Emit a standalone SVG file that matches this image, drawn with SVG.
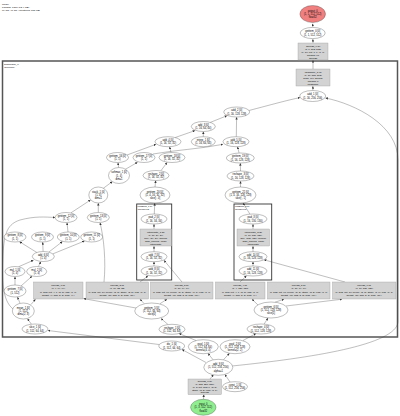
<svg xmlns="http://www.w3.org/2000/svg" width="400" height="416" viewBox="0 0 400 416">
<style>
text{font-family:"Liberation Sans",Arial,sans-serif;font-size:2.6px;fill:#000;text-anchor:middle}
.lbl{text-anchor:start;font-size:2.5px}
.n ellipse{fill:#fff;stroke:#333;stroke-width:0.32}
.b rect{fill:#d3d3d3;stroke:#999;stroke-width:0.35}
.b text{font-size:2.4px}
.e path{fill:none;stroke:#333;stroke-width:0.32;marker-end:url(#ah)}
.cl{fill:none;stroke:#555;stroke-width:1.5}
.sc{fill:none;stroke:#333;stroke-width:0.9}
</style>
<defs>
<marker id="ah" viewBox="0 0 10 10" refX="10" refY="5" markerWidth="2.4" markerHeight="2.4" markerUnits="userSpaceOnUse" orient="auto"><path d="M0,0 L10,5 L0,10 z" fill="#333"/></marker>
</defs>
<rect width="400" height="416" fill="#fff"/>
<g id="title">
<text class="lbl" x="2" y="4.5">Model</text>
<text class="lbl" x="2" y="7.6">Params: 3.2M (12.4 MB)</text>
<text class="lbl" x="2" y="10.7">MACs: 41.7G  Activations: 318 MB</text>
</g>
<g id="clusters">
<rect class="cl" x="2.5" y="61" width="395" height="276"/>
<text class="lbl" x="4" y="64.5">Sequential_0</text>
<text class="lbl" x="4" y="67.5">(decoder)</text>
<rect class="sc" x="136.7" y="204" width="35" height="76"/>
<text class="lbl" x="137.6" y="207" style="font-size:2.1px">FPNBlock_1 [1]</text>
<text class="lbl" x="137.6" y="209.6" style="font-size:2.1px">(decoder.p2)</text>
<rect class="sc" x="234" y="204" width="37.7" height="76"/>
<text class="lbl" x="234.9" y="207" style="font-size:2.1px">FPNBlock_2 [1]</text>
<text class="lbl" x="234.9" y="209.6" style="font-size:2.1px">(decoder.p3)</text>
</g>
<g id="edges" class="e">
<path d="M203.5,399.3 L203.8,394.6"/>
<path d="M210,379 L213.5,374.6"/>
<path d="M230,382 L225,374.5"/>
<path d="M206,362.5 L182,349.5"/>
<path d="M213,359.7 L208,353.3"/>
<path d="M223.5,359.7 L229.5,353.3"/>
<path d="M232,366 C310,358 396,345 398,322 L398,160 C398,125 355,104 325.5,98"/>
<path d="M159,344.5 L48,330.5"/>
<path d="M196,340.5 L179,333.5"/>
<path d="M243,340.5 L256,333.5"/>
<path d="M168,324.5 L161,318.5"/>
<path d="M264,324.2 L268,318"/>
<path d="M136,308 L83.5,298.6"/>
<path d="M144,303.5 L140,299.2"/>
<path d="M160,303.7 L167,299.2"/>
<path d="M258,305 L252,299.2"/>
<path d="M275,302.2 L284,299.2"/>
<path d="M286,306 L342,299.2"/>
<path d="M140,282 L148,275.8"/>
<path d="M182,282 L164,260.3"/>
<path d="M240,282 L246.5,275.8"/>
<path d="M345,282 L264,259.8"/>
<path d="M154,266 L154,261.8"/>
<path d="M154,251.7 L154,246.2"/>
<path d="M154,229 L154,224.2"/>
<path d="M154.3,214 L154.7,203.2"/>
<path d="M253,266 L253,261.8"/>
<path d="M253,251.7 L253,246.2"/>
<path d="M253,229 L253,224.2"/>
<path d="M250,214.2 L243,203"/>
<path d="M155,187 L155.7,180.6"/>
<path d="M161,170.6 L167,162.6"/>
<path d="M171,152.5 L169.6,146.8"/>
<path d="M240.5,187 L240.5,181.2"/>
<path d="M240.5,171 L240.3,163.2"/>
<path d="M239,152.8 L237.5,146.8"/>
<path d="M236.3,136.7 L236.6,117.2"/>
<path d="M175,137.6 L195,130.6"/>
<path d="M203.3,136.7 L203.3,131.6"/>
<path d="M210,122.5 L227,115.7"/>
<path d="M249,110.5 C270,105 288,100 300,97.6"/>
<path d="M312.8,90.5 L312.9,86.2"/>
<path d="M313,69 L313,60.2"/>
<path d="M313,43 L312.9,39.2"/>
<path d="M312.7,27 L312.7,23.7"/>
<path d="M103,188.5 L112.5,181.5"/>
<path d="M118.6,167.5 L118,162.7"/>
<path d="M125,169.5 L137.5,162.3"/>
<path d="M127,155 L156,144.3"/>
<path d="M153,154 C175,150 200,149 223,144.3"/>
<path d="M71,212.8 L90.5,200"/>
<path d="M98.3,212.5 L98.3,203.2"/>
<path d="M68,232 L67,222.7"/>
<path d="M37,252.6 L19.5,241.7"/>
<path d="M43.1,251.5 L42.7,242.2"/>
<path d="M48.5,252.3 L62.5,241.5"/>
<path d="M52.5,254 L84.5,241"/>
<path d="M18.5,266.8 L33.5,260.2"/>
<path d="M38.3,266.6 L40.8,261.7"/>
<path d="M15,285 L15,276.7"/>
<path d="M21,286 L32,276.2"/>
<path d="M20,303.2 L17.5,297.1"/>
<path d="M31.5,324.3 L27.5,318.7"/>
<path d="M13,309 C2,300 2,280 3,255 C4,232 8,224 20,220 C35,216 45,217 55,217.5"/>
<path d="M104,282 C106,262 104,238 100,222.7"/>
<path d="M31,304.5 L35.5,299.2"/>
</g>
<g id="output_0" class="n"><ellipse cx="312.7" cy="14" rx="12.8" ry="8.5" style="fill:#f08080"/><text x="312.7" y="11.8">output_0</text><text x="312.7" y="15">(1, 1, 512, 512)</text><text x="312.7" y="18.2">float32</text></g>
<g id="getitem_0" class="n"><ellipse cx="312.7" cy="33" rx="12.5" ry="5.6"/><text x="312.7" y="32.4">getitem_0 [0]</text><text x="312.7" y="35.6">(1, 1, 512, 512)</text></g>
<g id="conv2d_out" class="b"><rect x="298" y="43" width="30" height="17"/><text x="313" y="46.6">Conv2d_9 [1]</text><text x="313" y="49.6">(1, 1, 512, 512)</text><text x="313" y="52.6">in=16, out=1, k=(1, 1)</text><text x="313" y="55.6">params: 17</text><text x="313" y="58.6">Conv2d</text></g>
<g id="upsample" class="b"><rect x="296" y="69" width="34" height="17"/><text x="313" y="72.6">Upsample_1 [1]</text><text x="313" y="75.6">(1, 16, 512, 512)</text><text x="313" y="78.6">scale=2.0, bilinear</text><text x="313" y="81.6">params: 0</text><text x="313" y="84.6">Upsample</text></g>
<g id="add_1" class="n"><ellipse cx="312.7" cy="96" rx="13" ry="5.5"/><text x="312.7" y="95.4">add_1 [0]</text><text x="312.7" y="98.6">(1, 16, 256, 256)</text></g>
<g id="add_2" class="n"><ellipse cx="236.7" cy="112" rx="13" ry="5"/><text x="236.7" y="111.4">add_2 [0]</text><text x="236.7" y="114.6">(1, 16, 128, 128)</text></g>
<g id="add_3" class="n"><ellipse cx="203.3" cy="126.5" rx="12" ry="5"/><text x="203.3" y="125.9">add_3 [0]</text><text x="203.3" y="129.1">(1, 16, 64, 64)</text></g>
<g id="add_4" class="n"><ellipse cx="168" cy="141.7" rx="13" ry="5"/><text x="168" y="141.1">add_4 [0]</text><text x="168" y="144.3">(1, 16, 32, 32)</text></g>
<g id="interp_1" class="n"><ellipse cx="203.3" cy="141.7" rx="12" ry="5"/><text x="203.3" y="141.1">interp_1 [0]</text><text x="203.3" y="144.3">(1, 16, 64, 64)</text></g>
<g id="add_5" class="n"><ellipse cx="236" cy="141.7" rx="13" ry="5"/><text x="236" y="141.1">add_5 [0]</text><text x="236" y="144.3">(1, 16, 128, 128)</text></g>
<g id="getitem_16" class="n"><ellipse cx="117.5" cy="157.5" rx="11" ry="5"/><text x="117.5" y="156.9">getitem_16 [0]</text><text x="117.5" y="160.1">(1, 1)</text></g>
<g id="getitem_17" class="n"><ellipse cx="144" cy="157.5" rx="11" ry="5"/><text x="144" y="156.9">getitem_17 [0]</text><text x="144" y="160.1">(1, 1)</text></g>
<g id="getitem_18" class="n"><ellipse cx="172" cy="157.5" rx="13" ry="5"/><text x="172" y="156.9">getitem_18 [0]</text><text x="172" y="160.1">(1, 16, 32, 32)</text></g>
<g id="getitem_19" class="n"><ellipse cx="240.3" cy="158" rx="14" ry="5"/><text x="240.3" y="157.4">getitem_19 [0]</text><text x="240.3" y="160.6">(1, 16, 128, 128)</text></g>
<g id="softmax_1" class="n"><ellipse cx="119" cy="175.5" rx="10.5" ry="8"/><text x="119" y="173.3">softmax_1 [0]</text><text x="119" y="176.5">(1, 4)</text><text x="119" y="179.7">dim=1</text></g>
<g id="reshape_2" class="n"><ellipse cx="156" cy="175.5" rx="13" ry="5"/><text x="156" y="174.9">reshape_2 [0]</text><text x="156" y="178.1">(1, 16, 32, 32)</text></g>
<g id="reshape_3" class="n"><ellipse cx="240.5" cy="176" rx="13.5" ry="5"/><text x="240.5" y="175.4">reshape_3 [0]</text><text x="240.5" y="178.6">(1, 16, 128, 128)</text></g>
<g id="stack_1" class="n"><ellipse cx="98.3" cy="195" rx="9.5" ry="8"/><text x="98.3" y="192.8">stack_1 [0]</text><text x="98.3" y="196">(1, 4)</text><text x="98.3" y="199.2">dim=1</text></g>
<g id="getitem_20" class="n"><ellipse cx="155" cy="195" rx="15" ry="8"/><text x="155" y="192.8">getitem_20 [0]</text><text x="155" y="196">(1, 4, 16, 32, 32)</text><text x="155" y="199.2">slice[:, 0]</text></g>
<g id="getitem_21" class="n"><ellipse cx="240.5" cy="195" rx="15.5" ry="8"/><text x="240.5" y="192.8">getitem_21 [0]</text><text x="240.5" y="196">(1, 4, 16, 128, 128)</text><text x="240.5" y="199.2">slice[:, 1]</text></g>
<g id="getitem_12" class="n"><ellipse cx="66" cy="217.5" rx="11" ry="5"/><text x="66" y="216.9">getitem_12 [0]</text><text x="66" y="220.1">(1, 1)</text></g>
<g id="getitem_13" class="n"><ellipse cx="98.3" cy="217.5" rx="11" ry="5"/><text x="98.3" y="216.9">getitem_13 [0]</text><text x="98.3" y="220.1">(1, 1)</text></g>
<g id="getitem_8" class="n"><ellipse cx="15" cy="237" rx="11" ry="5"/><text x="15" y="236.4">getitem_8 [0]</text><text x="15" y="239.6">(1, 1)</text></g>
<g id="getitem_9" class="n"><ellipse cx="42.5" cy="237" rx="11" ry="5"/><text x="42.5" y="236.4">getitem_9 [0]</text><text x="42.5" y="239.6">(1, 1)</text></g>
<g id="getitem_10" class="n"><ellipse cx="68.3" cy="237" rx="11" ry="5"/><text x="68.3" y="236.4">getitem_10 [0]</text><text x="68.3" y="239.6">(1, 1)</text></g>
<g id="getitem_11" class="n"><ellipse cx="91.7" cy="237" rx="11" ry="5"/><text x="91.7" y="236.4">getitem_11 [0]</text><text x="91.7" y="239.6">(1, 1)</text></g>
<g id="add_6" class="n"><ellipse cx="43.3" cy="256.5" rx="11" ry="5"/><text x="43.3" y="255.9">add_6 [0]</text><text x="43.3" y="259.1">(1, 4)</text></g>
<g id="mul_1" class="n"><ellipse cx="15" cy="271.5" rx="10" ry="5"/><text x="15" y="270.9">mul_1 [0]</text><text x="15" y="274.1">(1, 4)</text></g>
<g id="mul_2" class="n"><ellipse cx="36.7" cy="271.5" rx="10" ry="5"/><text x="36.7" y="270.9">mul_2 [0]</text><text x="36.7" y="274.1">(1, 4)</text></g>
<g id="getitem_7" class="n"><ellipse cx="15" cy="291" rx="11" ry="6"/><text x="15" y="290.4">getitem_7 [0]</text><text x="15" y="293.6">(1, 512)</text></g>
<g id="mean_1" class="n"><ellipse cx="23.3" cy="311" rx="11" ry="8"/><text x="23.3" y="308.8">mean_1 [0]</text><text x="23.3" y="312">(1, 512)</text><text x="23.3" y="315.2">dim=(2, 3)</text></g>
<g id="slice_1" class="n"><ellipse cx="35" cy="329" rx="13" ry="5"/><text x="35" y="328.4">slice_1 [0]</text><text x="35" y="331.6">(1, 512, 64, 64)</text></g>
<g id="pad_2" class="n"><ellipse cx="154" cy="219" rx="13" ry="5"/><text x="154" y="218.4">pad_2 [0]</text><text x="154" y="221.6">(1, 16, 34, 34)</text></g>
<g id="interp_2" class="b"><rect x="140" y="229" width="31.5" height="17"/><text x="155.7" y="232.6">Interpolate_1 [2]</text><text x="155.7" y="235.6">(1, 16, 34, 34)</text><text x="155.7" y="238.6">size=(34, 34), bilinear</text><text x="155.7" y="241.6">align_corners=False</text><text x="155.7" y="244.6">Interpolate</text></g>
<g id="add_7" class="n"><ellipse cx="154" cy="256.7" rx="13" ry="5"/><text x="154" y="256.1">add_7 [0]</text><text x="154" y="259.3">(1, 16, 32, 32)</text></g>
<g id="add_8" class="n"><ellipse cx="154" cy="271" rx="13" ry="5"/><text x="154" y="270.4">add_8 [0]</text><text x="154" y="273.6">(1, 16, 32, 32)</text></g>
<g id="pad_3" class="n"><ellipse cx="253" cy="219" rx="14" ry="5"/><text x="253" y="218.4">pad_3 [0]</text><text x="253" y="221.6">(1, 16, 130, 130)</text></g>
<g id="interp_3" class="b"><rect x="237" y="229" width="32.5" height="17"/><text x="253.2" y="232.6">Interpolate_2 [2]</text><text x="253.2" y="235.6">(1, 16, 130, 130)</text><text x="253.2" y="238.6">size=(130, 130), bilinear</text><text x="253.2" y="241.6">align_corners=False</text><text x="253.2" y="244.6">Interpolate</text></g>
<g id="add_10" class="n"><ellipse cx="253" cy="256.7" rx="14" ry="5"/><text x="253" y="256.1">add_10 [0]</text><text x="253" y="259.3">(1, 16, 128, 128)</text></g>
<g id="add_11" class="n"><ellipse cx="253" cy="271" rx="14" ry="5"/><text x="253" y="270.4">add_11 [0]</text><text x="253" y="273.6">(1, 16, 128, 128)</text></g>
<g id="conv2d_1" class="b"><rect x="33.5" y="282" width="49.5" height="17"/><text x="58.2" y="286">conv2d_1 [0]</text><text x="58.2" y="289.4">(1, 4, 64, 64)</text><text x="58.2" y="292.8">in=512, out=4, k=(3, 3), pad=(1, 1)</text><text x="58.2" y="296.2">weight=(4, 512, 3, 3), bias=(4,)</text></g>
<g id="conv2d_2" class="b"><rect x="86" y="282" width="62.5" height="17"/><text x="117.2" y="286">conv2d_2 [0]</text><text x="117.2" y="289.4">(1, 16, 32, 32)</text><text x="117.2" y="292.8">in=512, out=16, kernel=(3, 3), stride=(2, 2), pad=(1, 1)</text><text x="117.2" y="296.2">weight=(16, 512, 3, 3), bias=(16,)</text></g>
<g id="conv2d_3" class="b"><rect x="150.5" y="282" width="62.5" height="17"/><text x="181.7" y="286">conv2d_3 [0]</text><text x="181.7" y="289.4">(1, 16, 64, 64)</text><text x="181.7" y="292.8">in=512, out=16, kernel=(3, 3), stride=(1, 1), pad=(1, 1)</text><text x="181.7" y="296.2">weight=(16, 512, 3, 3), bias=(16,)</text></g>
<g id="conv2d_4" class="b"><rect x="215.5" y="282" width="49.5" height="17"/><text x="240.2" y="286">conv2d_4 [0]</text><text x="240.2" y="289.4">(1, 4, 128, 128)</text><text x="240.2" y="292.8">in=512, out=4, k=(3, 3), pad=(1, 1)</text><text x="240.2" y="296.2">weight=(4, 512, 3, 3), bias=(4,)</text></g>
<g id="conv2d_5" class="b"><rect x="267.5" y="282" width="62.5" height="17"/><text x="298.7" y="286">conv2d_5 [0]</text><text x="298.7" y="289.4">(1, 16, 64, 64)</text><text x="298.7" y="292.8">in=512, out=16, kernel=(3, 3), stride=(2, 2), pad=(1, 1)</text><text x="298.7" y="296.2">weight=(16, 512, 3, 3), bias=(16,)</text></g>
<g id="conv2d_6" class="b"><rect x="332.5" y="282" width="63.5" height="17"/><text x="364.2" y="286">conv2d_6 [0]</text><text x="364.2" y="289.4">(1, 16, 128, 128)</text><text x="364.2" y="292.8">in=512, out=16, kernel=(3, 3), stride=(1, 1), pad=(1, 1)</text><text x="364.2" y="296.2">weight=(16, 512, 3, 3), bias=(16,)</text></g>
<g id="getitem_5" class="n"><ellipse cx="151.7" cy="311" rx="17" ry="8"/><text x="151.7" y="308.8">getitem_5 [0]</text><text x="151.7" y="312">(1, 512, 64, 64)</text><text x="151.7" y="315.2">slice[0]</text></g>
<g id="getitem_6" class="n"><ellipse cx="271" cy="310" rx="17" ry="8"/><text x="271" y="307.8">getitem_6 [0]</text><text x="271" y="311">(1, 512, 128, 128)</text><text x="271" y="314.2">slice[1]</text></g>
<g id="reshape_1" class="n"><ellipse cx="172" cy="329.3" rx="13" ry="5"/><text x="172" y="328.7">reshape_1 [0]</text><text x="172" y="331.9">(1, 512, 64, 64)</text></g>
<g id="reshape_4" class="n"><ellipse cx="261" cy="329" rx="14" ry="5"/><text x="261" y="328.4">reshape_4 [0]</text><text x="261" y="331.6">(1, 512, 128, 128)</text></g>
<g id="div_1" class="n"><ellipse cx="171.7" cy="346" rx="13" ry="5"/><text x="171.7" y="345.4">div_1 [0]</text><text x="171.7" y="348.6">(1, 512, 64, 64)</text></g>
<g id="pool_1" class="n"><ellipse cx="203.3" cy="346.7" rx="15" ry="7"/><text x="203.3" y="344.5">pool_1 [0]</text><text x="203.3" y="347.7">(1, 512, 64, 64)</text><text x="203.3" y="350.9">kernel=(4, 4)</text></g>
<g id="pool_2" class="n"><ellipse cx="235" cy="346.7" rx="15" ry="7"/><text x="235" y="344.5">pool_2 [0]</text><text x="235" y="347.7">(1, 512, 128, 128)</text><text x="235" y="350.9">kernel=(2, 2)</text></g>
<g id="add_9" class="n"><ellipse cx="218.3" cy="367.3" rx="14.5" ry="8"/><text x="218.3" y="365.1">add_9 [0]</text><text x="218.3" y="368.3">(1, 512, 256, 256)</text><text x="218.3" y="371.5">alpha=1</text></g>
<g id="conv2d_0" class="b"><rect x="188" y="379" width="33.5" height="15.6"/><text x="204.7" y="382.2">Conv2d_0 [1]</text><text x="204.7" y="385">(1, 512, 256, 256)</text><text x="204.7" y="387.8">in=3, out=512, k=(3, 3)</text><text x="204.7" y="390.6">stride=(2, 2), pad=(1, 1)</text><text x="204.7" y="393.4">Conv2d</text></g>
<g id="const_1" class="n"><ellipse cx="235" cy="386.7" rx="12.5" ry="5"/><text x="235" y="386.1">const_1 [0]</text><text x="235" y="389.3">(1, 512, 256, 256)</text></g>
<g id="input_0" class="n"><ellipse cx="203.3" cy="407.3" rx="12.7" ry="8" style="fill:#90ee90"/><text x="203.3" y="405.1">input_0</text><text x="203.3" y="408.3">(1, 3, 512, 512)</text><text x="203.3" y="411.5">float32</text></g>
</svg>
